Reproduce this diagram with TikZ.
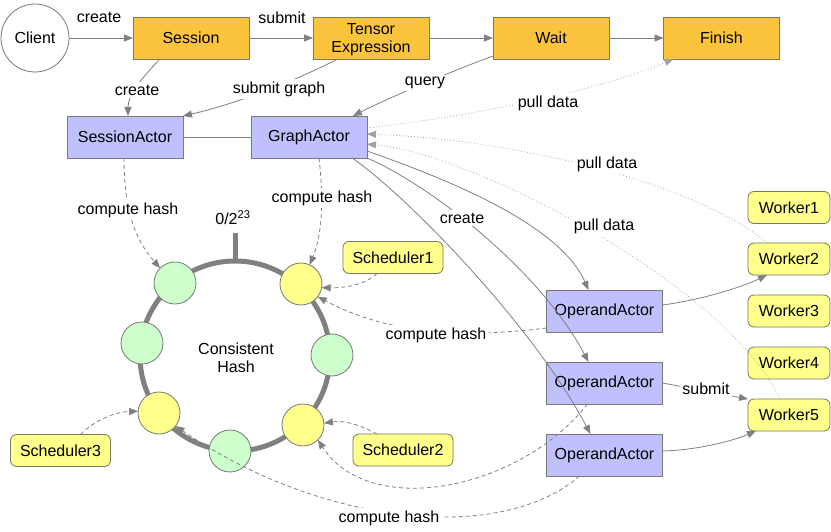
\documentclass[tikz,border=0pt]{standalone}
\usepackage{fontspec}
\setmainfont{Liberation Sans}
\usetikzlibrary{arrows.meta}
\definecolor{orangebox}{RGB}{252,196,60}
\definecolor{purplebox}{RGB}{192,192,255}
\definecolor{yellowbox}{RGB}{255,255,140}
\definecolor{greenc}{RGB}{204,255,204}
\definecolor{linegray}{RGB}{128,128,128}
\definecolor{dotgray}{RGB}{160,160,160}
\definecolor{boxborder}{RGB}{120,120,120}
\definecolor{yborder}{RGB}{120,120,90}
\begin{document}
\begin{tikzpicture}[x=1pt,y=-1pt,
  font=\fontsize{16}{18}\selectfont,
  base/.style={inner sep=0pt, outer sep=0pt},
  obox/.style={base, draw=boxborder, line width=0.9pt, fill=orangebox, minimum width=116pt, minimum height=42pt, align=center},
  pbox/.style={base, draw=boxborder, line width=0.9pt, fill=purplebox, minimum width=116pt, minimum height=42pt},
  wbox/.style={base, draw=yborder, line width=0.8pt, fill=yellowbox, rounded corners=6pt, minimum width=82pt, minimum height=32pt},
  sbox/.style={wbox, minimum width=100pt},
  clientc/.style={base, circle, draw=boxborder, line width=0.8pt, fill=white, minimum size=68pt},
  gcirc/.style={base, circle, draw=boxborder, line width=0.8pt, fill=greenc, minimum size=42pt},
  ycirc/.style={base, circle, draw=boxborder, line width=0.8pt, fill=yellowbox, minimum size=42pt},
  ringline/.style={draw=linegray, line width=5pt},
  conn/.style={draw=linegray, line width=0.8pt},
  arr/.style={conn, -{Triangle[length=9pt,width=7pt]}},
  dasharr/.style={arr, dash pattern=on 4pt off 3pt},
  dotarr/.style={arr, draw=dotgray, line width=0.7pt, dash pattern=on 0.8pt off 2.2pt},
  lbl/.style={base, fill=white, inner sep=2.5pt},
  txt/.style={base, align=center},
]
\useasboundingbox (0,0) rectangle (831,532);

% ring
\draw[ringline] (235,356) circle[radius=95];
\coordinate (ringtop) at (235,262);
\coordinate (ticktop) at (235,233);
\draw[ringline] (ringtop) -- (ticktop);
\node[txt] (zero) at (233,218) {0/2\textsuperscript{23}};
\node[txt] (chash) at (236,358) {Consistent\\Hash};

% nodes
\node[clientc] (client) at (35,38) {Client};
\node[obox] (session) at (191,38) {Session};
\node[obox] (te) at (371,38) {\rule{0pt}{15pt}Tensor\\Expression};
\node[obox] (wait) at (551,38) {Wait};
\node[obox] (finish) at (721.5,38) {Finish};
\node[pbox] (sa) at (125,137) {SessionActor};
\node[pbox] (ga) at (309,137) {GraphActor};
\node[pbox] (oa1) at (604.5,311) {OperandActor};
\node[pbox] (oa2) at (604.5,383) {OperandActor};
\node[pbox] (oa3) at (604.5,455) {OperandActor};
\node[wbox] (w1) at (789,207.5) {Worker1};
\node[wbox] (w2) at (789,259) {Worker2};
\node[wbox] (w3) at (789,311) {Worker3};
\node[wbox] (w4) at (789,363) {Worker4};
\node[wbox] (w5) at (789,415) {Worker5};
\node[sbox] (s1) at (393,257.5) {Scheduler1};
\node[sbox] (s2) at (403,450) {Scheduler2};
\node[sbox] (s3) at (60.5,450.5) {Scheduler3};
\node[gcirc] (g1) at (175,283) {};
\node[ycirc] (y1) at (301,284) {};
\node[gcirc] (g2) at (142,343) {};
\node[gcirc] (g3) at (332,355) {};
\node[ycirc] (y2) at (159,413) {};
\node[gcirc] (g4) at (230,451) {};
\node[ycirc] (y3) at (303,425) {};

% top row
\draw[arr] (client) -- (session);
\draw[arr] (session) -- (te);
\draw[arr] (te) -- (wait);
\draw[arr] (wait) -- (finish);
\draw[arr] ([xshift=-31pt]session.south) .. controls (140,80) and (128,95) .. ([xshift=3pt]sa.north);
\draw[arr] ([xshift=-33pt]te.south) .. controls (288,84) and (235,104) .. (sa.north east);
\draw[arr] ([yshift=3pt]wait.south west) .. controls (460,68) and (390,97) .. ([xshift=-14pt]ga.north east);
\draw[conn] (sa) -- (ga);

% pull data
\draw[dotarr] ([yshift=9pt]ga.east) .. controls (480,115) and (600,90) .. ([xshift=10pt]finish.south west);
\draw[dotarr] ([xshift=-22pt]w2.north) .. controls (700,185) and (520,140) .. ([yshift=3pt]ga.east);
\draw[dotarr] ([xshift=-9pt]w5.north) .. controls (730,290) and (480,155) .. ([yshift=-7pt]ga.east);

% create operand actors
\draw[arr] ([yshift=-14pt]ga.east) .. controls (450,180) and (560,225) .. ([xshift=-16pt]oa1.north);
\draw[arr] (ga.south east) .. controls (430,185) and (540,270) .. ([xshift=-16pt]oa2.north);
\draw[arr] ([xshift=43pt]ga.south) .. controls (400,190) and (530,320) .. ([xshift=-14pt]oa3.north);

% operand actors to workers
\draw[arr] ([yshift=6pt]oa1.east) .. controls (700,300) and (740,288) .. ([xshift=-22pt]w2.south);
\draw[arr] (oa2.east) -- (w5.north west);
\draw[arr] ([yshift=4pt]oa3.east) .. controls (700,450) and (735,440) .. ([xshift=-33pt]w5.south);

% compute hash
\draw[dasharr] ([xshift=-1pt]sa.south) .. controls (124,220) and (140,245) .. (g1.135);
\draw[dasharr] ([xshift=10pt]ga.south) .. controls (325,210) and (320,240) .. (y1.66);
\draw[dasharr] ([xshift=-16pt]s1.south) .. controls (365,285) and (345,288) .. (y1.-10);
\draw[dasharr] ([yshift=4pt]oa1.south west) .. controls (450,340) and (380,330) .. (y1.-37);
\draw[dasharr] ([xshift=-26pt]s2.north) .. controls (360,425) and (345,420) .. (y3.5);
\draw[dasharr] ([xshift=-17pt]oa2.south) .. controls (520,490) and (370,520) .. (y3.-45);
\draw[dasharr] ([xshift=-25pt]oa3.south) .. controls (500,545) and (320,525) .. (y2.-38);
\draw[dasharr] ([xshift=20pt]s3.north) .. controls (95,420) and (115,412) .. (y2.175);

% labels
\node[txt] (lcreate1) at (99,17) {create};
\node[txt] (lsubmit1) at (282,18) {submit};
\node[lbl] (lcreate2) at (137,90) {create};
\node[lbl] (lsubgraph) at (279,89) {submit graph};
\node[lbl] (lquery) at (425,83) {query};
\node[lbl] (lpull1) at (548,103) {pull data};
\node[lbl] (lpull2) at (607,164) {pull data};
\node[lbl] (lpull3) at (604,226) {pull data};
\node[lbl] (lcreate3) at (462,218) {create};
\node[lbl] (lch1) at (128,210) {compute hash};
\node[lbl] (lch2) at (322,198) {compute hash};
\node[lbl] (lch3) at (436,335) {compute hash};
\node[lbl] (lch4) at (389,518) {compute hash};
\node[lbl] (lsubmit2) at (706,389) {submit};
\end{tikzpicture}
\end{document}
